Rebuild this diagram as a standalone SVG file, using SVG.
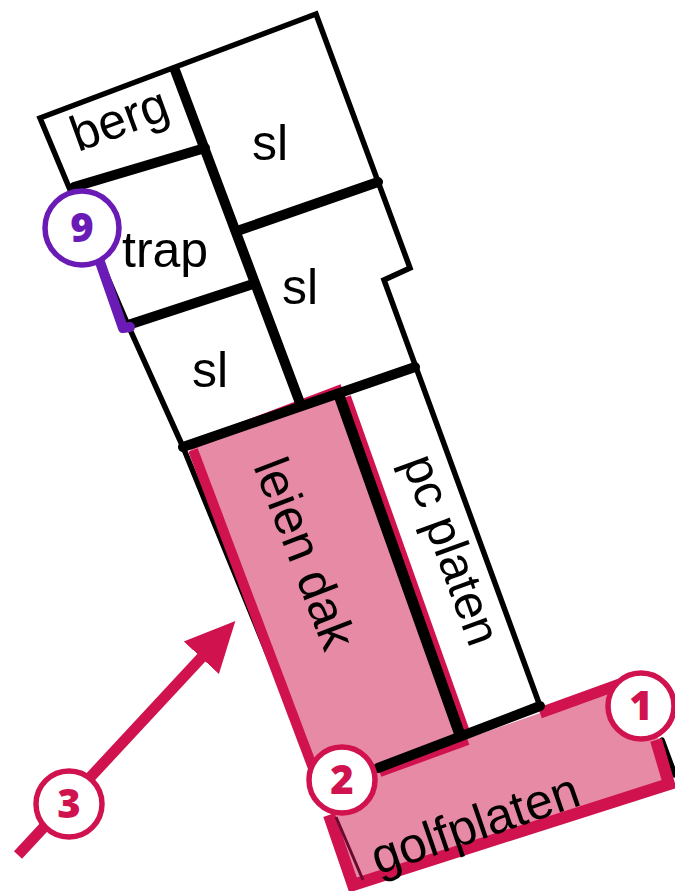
<svg xmlns="http://www.w3.org/2000/svg" width="675" height="891" viewBox="0 0 675 891">
<style>
.t{font-family:"Liberation Sans",Arial,sans-serif;font-size:50px;fill:#000}
.n{font-family:"Open Sans","Noto Sans",sans-serif;font-size:40px;font-weight:800;text-anchor:middle}
.w{fill:none;stroke:#000;stroke-linejoin:miter;stroke-linecap:round}
.b{fill:#fff;stroke:#d0134f;stroke-width:5.5}
</style>
<defs><marker id="ah" markerUnits="userSpaceOnUse" markerWidth="52" markerHeight="52" refX="1" refY="25" orient="auto"><path d="M0,1L50,25L0,49z" fill="#d0134f"/></marker></defs>
<g id="walls-lower">
<path class="w" stroke-width="5.5" d="M183,447L305,745M662,740L675,775"/>
</g>
<g id="roofs">
<path d="M190,450L340,392L460,738L378,770L540,713L613,686L660,740L668,784L355,885L331,815L318,790z" fill="#e78aa6"/>
<path d="M193,450L325,800" fill="none" stroke="#d0134f" stroke-width="10"/>
<path d="M190,446L342,388" fill="none" stroke="#d0134f" stroke-width="8"/>
<path d="M346,397L466,735" fill="none" stroke="#d0134f" stroke-width="10"/>
<path d="M380,773L468,741" fill="none" stroke="#d0134f" stroke-width="8"/>
<path d="M329,815L353,885L669,784L656,740" fill="none" stroke="#d0134f" stroke-width="12"/>
<path d="M540,713L620,684" fill="none" stroke="#d0134f" stroke-width="11"/>
<path d="M336,817L363,880" fill="none" stroke="#6b0a2e" stroke-width="3"/>
</g>
<g id="walls">
<path class="w" stroke-width="5.5" d="M68,185L40,118L316,14L410,268L384,280L540,706M68,185L128,325L183,447"/>
<path class="w" stroke-width="10" d="M175,70L300,403M183,447L415,367M378,768L540,706M74,187L205,148M128,325L250,285M240,230L378,182"/>
<path class="w" stroke-width="11" d="M340,398L460,735"/>
</g>
<g id="labels">
<text class="t" transform="translate(78,152) rotate(-20)">berg</text>
<text class="t" x="122" y="267">trap</text>
<text class="t" x="252" y="160">sl</text>
<text class="t" x="282" y="304">sl</text>
<text class="t" x="192" y="387">sl</text>
<text class="t" transform="translate(253,466) rotate(69)">leien dak</text>
<text class="t" style="font-size:49px" transform="translate(402,462) rotate(70)">pc platen</text>
<text class="t" transform="translate(378,875) rotate(-19)">golfplaten</text>
</g>
<g id="marker-1"><circle class="b" cx="641" cy="706" r="33"/><text class="n" x="641" y="720" fill="#d0134f">1</text></g>
<g id="marker-2"><circle class="b" cx="342" cy="780" r="33"/><text class="n" x="342" y="794" fill="#d0134f">2</text></g>
<g id="arrow-3"><path d="M18,855L202,657" fill="none" stroke="#d0134f" stroke-width="11" marker-end="url(#ah)"/><circle class="b" cx="69" cy="804" r="33"/><text class="n" x="69" y="818" fill="#d0134f">3</text></g>
<g id="marker-9"><path d="M100,262L123,328L130,327" fill="none" stroke="#6a1bb5" stroke-width="10" stroke-linecap="round" stroke-linejoin="round"/><circle cx="82" cy="228" r="37" fill="#fff" stroke="#6a1bb5" stroke-width="5.5"/><text class="n" x="82" y="242" fill="#6a1bb5">9</text></g>
</svg>
